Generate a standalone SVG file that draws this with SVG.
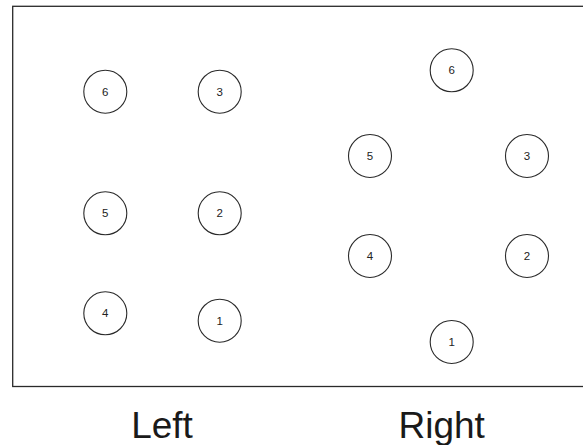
<svg xmlns="http://www.w3.org/2000/svg" width="583" height="445" viewBox="0 0 583 445">
<style>
.n circle{fill:#fff;stroke:#2a2a2a;stroke-width:1.1}
.n text{font-family:"Liberation Sans",Arial,sans-serif;font-size:11.5px;fill:#222;text-anchor:middle;dominant-baseline:central}
.lbl{font-family:"Liberation Sans",Arial,sans-serif;font-size:37px;fill:#1a1a1a;text-anchor:middle}
</style>
<rect x="0" y="0" width="583" height="445" fill="#fff"/>
<rect x="12.7" y="6.3" width="590" height="380.2" fill="none" stroke="#2a2a2a" stroke-width="1.3"/>
<g id="connectors"></g>
<g id="L6" class="n"><circle cx="105.3" cy="91.7" r="21.5"/><text x="105.3" y="91.7">6</text></g>
<g id="L3" class="n"><circle cx="219.7" cy="91.7" r="21.5"/><text x="219.7" y="91.7">3</text></g>
<g id="L5" class="n"><circle cx="105.3" cy="213.3" r="21.5"/><text x="105.3" y="213.3">5</text></g>
<g id="L2" class="n"><circle cx="219.7" cy="213.3" r="21.5"/><text x="219.7" y="213.3">2</text></g>
<g id="L4" class="n"><circle cx="105.3" cy="313.3" r="21.5"/><text x="105.3" y="313.3">4</text></g>
<g id="L1" class="n"><circle cx="219.7" cy="320.7" r="21.5"/><text x="219.7" y="320.7">1</text></g>
<g id="R6" class="n"><circle cx="451.7" cy="70.3" r="21.5"/><text x="451.7" y="70.3">6</text></g>
<g id="R5" class="n"><circle cx="370" cy="156" r="21.5"/><text x="370" y="156">5</text></g>
<g id="R3" class="n"><circle cx="527" cy="156" r="21.5"/><text x="527" y="156">3</text></g>
<g id="R4" class="n"><circle cx="370" cy="256" r="21.5"/><text x="370" y="256">4</text></g>
<g id="R2" class="n"><circle cx="527" cy="256" r="21.5"/><text x="527" y="256">2</text></g>
<g id="R1" class="n"><circle cx="451.7" cy="342" r="21.5"/><text x="451.7" y="342">1</text></g>
<text class="lbl" x="162" y="438">Left</text>
<text class="lbl" x="441.7" y="438">Right</text>
</svg>
